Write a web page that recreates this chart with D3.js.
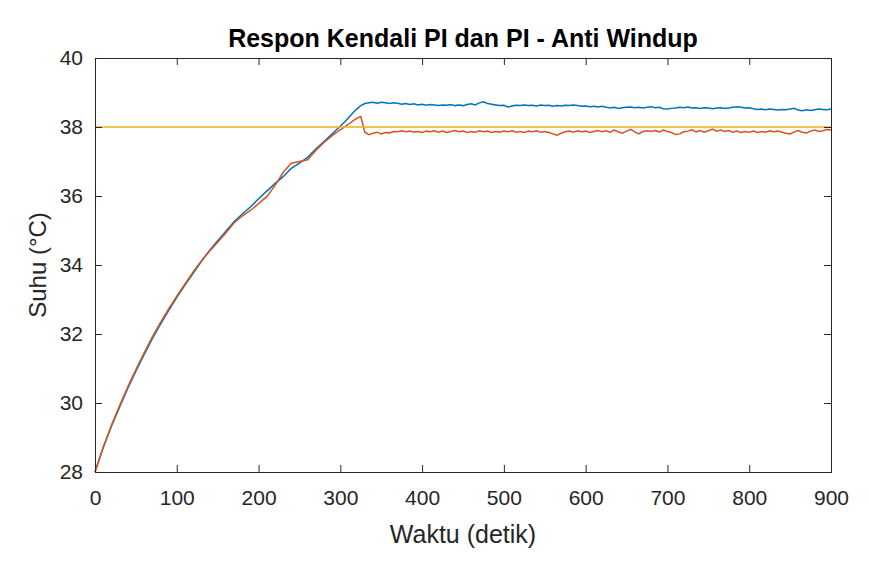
<!DOCTYPE html>
<html>
<head>
<meta charset="utf-8">
<script src="https://cdn.jsdelivr.net/npm/d3@7"></script>
<style>
body { margin: 0; background: #fff; }
text { font-family: "Liberation Sans", Arial, sans-serif; fill: #262626; }
.title { font-weight: bold; fill: #000; }
</style>
</head>
<body>
<div id="chart"></div>
<script>
var fw = 869;
var fh = 566;

var mar = { top: 58, right: 38, bottom: 94, left: 95 };

var w = fw - mar.left - mar.right;
var h = fh - mar.top - mar.bottom;

// waktu sampling: 10 s sampai 300, lalu 5 s
var riseTime = d3.range(0, 301, 10);
var flatTime = d3.range(305, 901, 5);

// PI biasa (biru)
var piRise = [28.00, 28.70, 29.32, 29.88, 30.42, 30.92, 31.40, 31.86, 32.28, 32.68, 33.06,
	33.42, 33.76, 34.10, 34.42, 34.70, 34.98, 35.25, 35.48, 35.68, 35.92,
	36.14, 36.36, 36.56, 36.80, 36.95, 37.12, 37.36, 37.58, 37.80, 38.02];
var piFlat = [
	38.14, 38.27, 38.40, 38.52, 38.62, 38.68, 38.70, 38.72, 38.69, 38.72, 38.70, 38.68, 38.70, 38.69, 38.66, 38.68, 38.65, 38.67, 38.64, 38.66,
	38.63, 38.65, 38.64, 38.62, 38.64, 38.63, 38.65, 38.62, 38.64, 38.62, 38.65, 38.67, 38.64, 38.70, 38.73, 38.68, 38.66, 38.64, 38.62, 38.63,
	38.58, 38.61, 38.63, 38.62, 38.64, 38.62, 38.63, 38.61, 38.64, 38.62, 38.63, 38.60, 38.62, 38.61, 38.63, 38.62, 38.64, 38.62, 38.60, 38.61,
	38.59, 38.60, 38.58, 38.60, 38.57, 38.55, 38.57, 38.54, 38.56, 38.57, 38.58, 38.56, 38.57, 38.55, 38.57, 38.59, 38.56, 38.57, 38.53, 38.52,
	38.54, 38.55, 38.57, 38.56, 38.58, 38.55, 38.56, 38.54, 38.56, 38.55, 38.53, 38.55, 38.56, 38.54, 38.55, 38.57, 38.59, 38.57, 38.55, 38.56,
	38.53, 38.51, 38.52, 38.50, 38.52, 38.51, 38.49, 38.51, 38.50, 38.52, 38.54, 38.49, 38.47, 38.50, 38.48, 38.50, 38.52, 38.51, 38.50, 38.52];

// PI anti windup (merah)
var awRise = [28.00, 28.72, 29.35, 29.92, 30.46, 30.97, 31.45, 31.91, 32.33, 32.73, 33.10,
	33.45, 33.80, 34.12, 34.40, 34.66, 34.93, 35.22, 35.42, 35.58, 35.78,
	35.98, 36.30, 36.68, 36.95, 37.00, 37.05, 37.32, 37.55, 37.75, 37.92];
var awFlat = [
	38.00, 38.08, 38.17, 38.25, 38.30, 37.85, 37.78, 37.82, 37.85, 37.80, 37.84, 37.83, 37.87, 37.86, 37.89, 37.86, 37.88, 37.85, 37.87, 37.84,
	37.88, 37.86, 37.89, 37.85, 37.88, 37.84, 37.87, 37.90, 37.86, 37.88, 37.84, 37.87, 37.85, 37.89, 37.86, 37.88, 37.84, 37.87, 37.85, 37.88,
	37.86, 37.89, 37.85, 37.87, 37.84, 37.88, 37.86, 37.89, 37.85, 37.87, 37.84, 37.80, 37.76, 37.82, 37.86, 37.88, 37.85, 37.89, 37.86, 37.88,
	37.84, 37.87, 37.90, 37.86, 37.89, 37.85, 37.91, 37.86, 37.82, 37.88, 37.93, 37.86, 37.80, 37.87, 37.89, 37.87, 37.90, 37.86, 37.91, 37.87,
	37.84, 37.78, 37.80, 37.86, 37.88, 37.92, 37.86, 37.90, 37.85, 37.89, 37.94, 37.88, 37.91, 37.87, 37.90, 37.85, 37.88, 37.84, 37.87, 37.85,
	37.88, 37.84, 37.87, 37.85, 37.89, 37.86, 37.88, 37.85, 37.82, 37.80, 37.86, 37.90, 37.85, 37.83, 37.88, 37.91, 37.87, 37.89, 37.93, 37.91];

var spTime = [0, 900];
var spVal = [38, 38];

var xTicks = [0, 100, 200, 300, 400, 500, 600, 700, 800, 900];
var yTicks = [28, 30, 32, 34, 36, 38, 40];

var time = riseTime.concat(flatTime);
var piData = time.map(function(t, i) { return [t, piRise.concat(piFlat)[i]]; });
var awData = time.map(function(t, i) { return [t, awRise.concat(awFlat)[i]]; });
var spData = spTime.map(function(t, i) { return [t, spVal[i]]; });

var svg = d3.select("#chart")
		.append("svg")
		.attr("width", fw)
		.attr("height", fh);

var g = svg.append("g")
		.attr("transform", "translate(" + mar.left + "," + mar.top + ")");

var x = d3.scaleLinear()
		.domain([0, 900])
		.range([0, w]);

var y = d3.scaleLinear()
		.domain([28, 40])
		.range([h, 0]);

var line = d3.line()
		.x(function(d) { return x(d[0]); })
		.y(function(d) { return y(d[1]); });

g.append("path")
	.datum(piData)
	.attr("fill", "none")
	.attr("stroke", "#0072BD")
	.attr("stroke-width", 1.5)
	.attr("d", line);

g.append("path")
	.datum(awData)
	.attr("fill", "none")
	.attr("stroke", "#D95319")
	.attr("stroke-width", 1.5)
	.attr("d", line);

g.append("path")
	.datum(spData)
	.attr("fill", "none")
	.attr("stroke", "#EDB120")
	.attr("stroke-width", 1.5)
	.attr("d", line);

var tick = 7;

var xA = d3.axisBottom(x).tickValues(xTicks).tickSize(-tick).tickPadding(18);
var yA = d3.axisLeft(y).tickValues(yTicks).tickSize(-tick).tickPadding(12);
var xT = d3.axisTop(x).tickValues(xTicks).tickSize(-tick).tickFormat("");
var yR = d3.axisRight(y).tickValues(yTicks).tickSize(-tick).tickFormat("");

var ax = g.append("g").attr("transform", "translate(0," + h + ")").call(xA);
var ay = g.append("g").call(yA);
var at = g.append("g").call(xT);
var ar = g.append("g").attr("transform", "translate(" + w + ",0)").call(yR);

[ax, ay, at, ar].forEach(function(a) {
	a.selectAll("path").attr("stroke", "#262626");
	a.selectAll("line").attr("stroke", "#262626");
	a.selectAll("text").style("font-size", "21px").attr("fill", "#333");
});

g.append("text")
	.attr("class", "title")
	.attr("x", w / 2)
	.attr("y", -11)
	.style("text-anchor", "middle")
	.style("font-size", "25px")
	.text("Respon Kendali PI dan PI - Anti Windup");

g.append("text")
	.attr("x", w / 2)
	.attr("y", h + 71)
	.style("text-anchor", "middle")
	.style("font-size", "25px")
	.attr("fill", "#333")
	.text("Waktu (detik)");

g.append("text")
	.attr("transform", "rotate(-90) translate(" + (-h / 2) + ",-49)")
	.style("text-anchor", "middle")
	.style("font-size", "24px")
	.attr("fill", "#333")
	.text("Suhu (°C)");
</script>
</body>
</html>
